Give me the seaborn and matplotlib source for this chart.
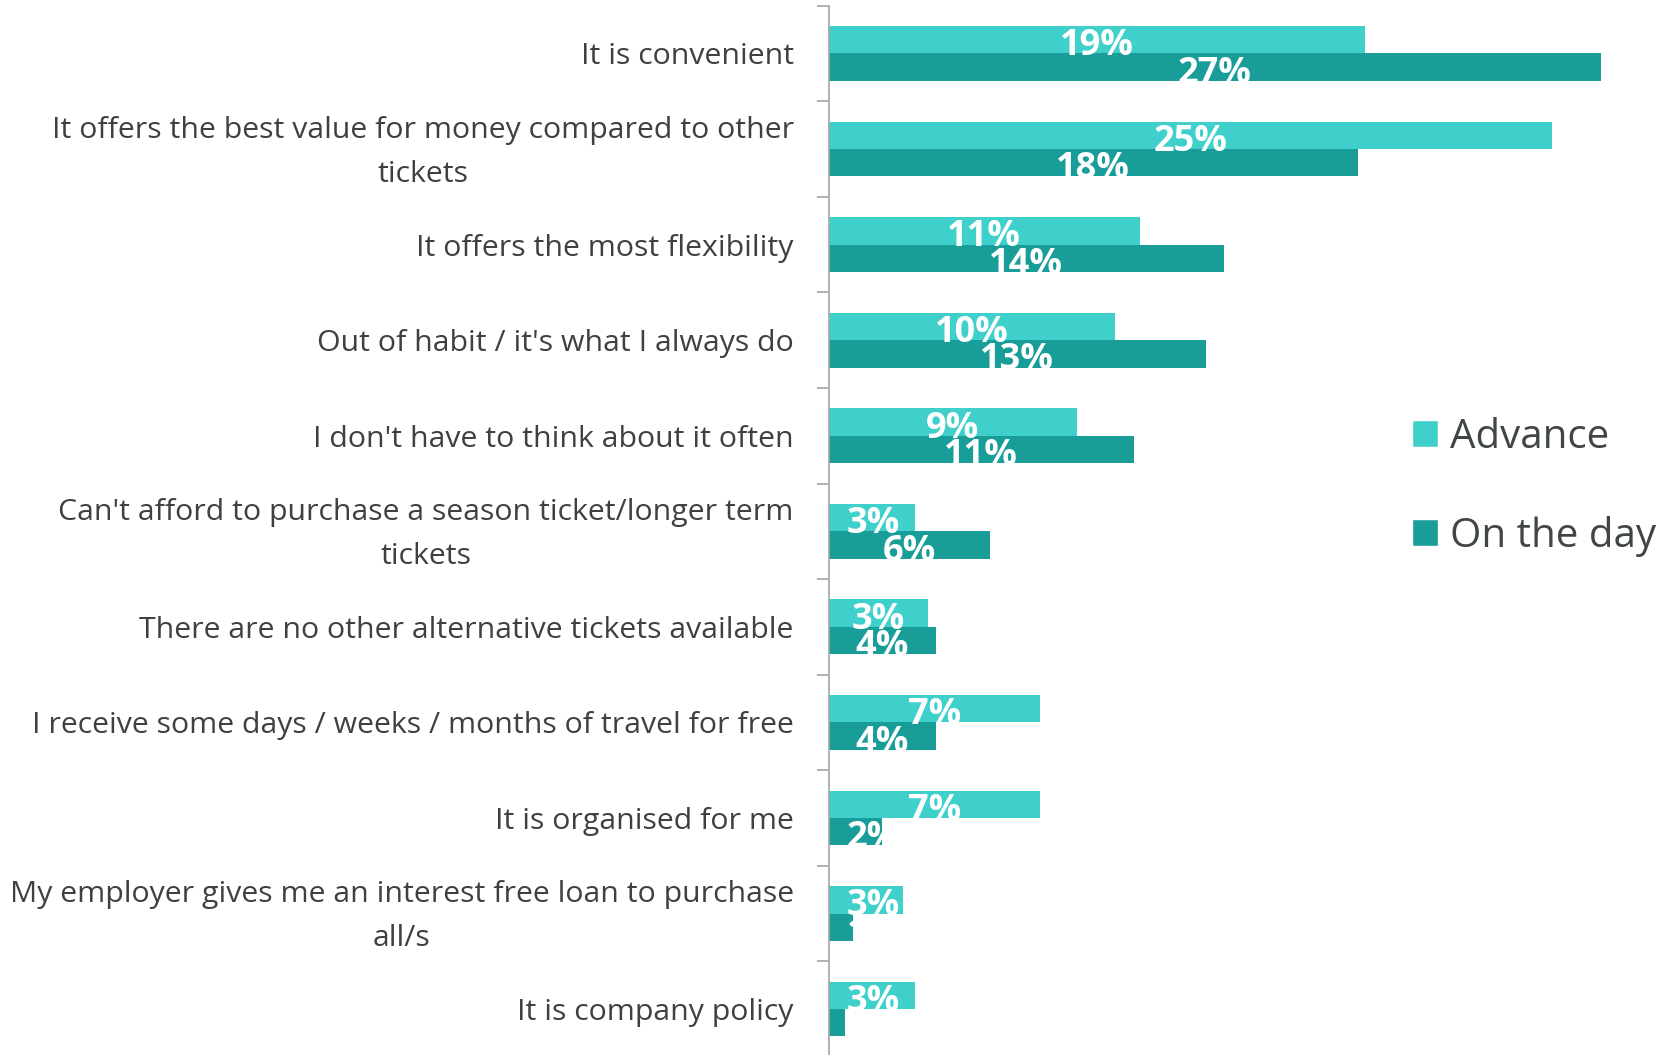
import matplotlib
matplotlib.use("Agg")
import matplotlib.pyplot as plt
from matplotlib.patches import Patch
from matplotlib.ticker import FixedLocator
from matplotlib.transforms import ScaledTranslation
import seaborn as sns
import pandas as pd
import numpy as np

categories = [
    "It is convenient",
    "It offers the best value for money compared to other\ntickets",
    "It offers the most flexibility",
    "Out of habit / it's what I always do",
    "I don't have to think about it often",
    "Can't afford to purchase a season ticket/longer term\ntickets",
    "There are no other alternative tickets available",
    "I receive some days / weeks / months of travel for free",
    "It is organised for me",
    "My employer gives me an interest free loan to purchase\nall/s",
    "It is company policy",
]
advance = [18.7, 25.2, 10.85, 9.98, 8.67, 3.02, 3.46, 7.38, 7.38, 2.59, 3.03]
on_the_day = [26.9, 18.45, 13.77, 13.14, 10.64, 5.62, 3.74, 3.74, 1.87, 0.87, 0.59]
series_names = ["Advance", "On the day"]
colors = ["#40D0CC", "#189D99"]

sns.set_theme(style="white")
plt.rcParams['font.family'] = ['Open Sans', 'DejaVu Sans']

df = pd.DataFrame({
    "Category": categories * 2,
    "Value": advance + on_the_day,
    "Series": [series_names[0]] * len(categories) + [series_names[1]] * len(categories),
})

W, H = 1670, 1055
fig = plt.figure(figsize=(W / 100, H / 100), dpi=100)
ax = fig.add_axes([828.5 / W, -1.9 / H, 1 - 828.5 / W, (1056.9 - 5.7) / H])

sns.barplot(data=df, y="Category", x="Value", hue="Series", palette=colors,
            orient="h", width=0.573, saturation=1, ax=ax, legend=False,
            linewidth=0, errorbar=None)

px_per_unit = 28.7
ax.set_xlim(0, (W - 828.5) / px_per_unit)
ax.set_xlabel("")
ax.set_ylabel("")
ax.xaxis.set_visible(False)
for s in ["top", "right", "bottom"]:
    ax.spines[s].set_visible(False)
ax.spines["left"].set_color("#A6A6A6")
ax.spines["left"].set_linewidth(1.2)

n = len(categories)
ax.yaxis.set_minor_locator(FixedLocator(np.arange(-0.5, n, 1)))
ax.tick_params(axis="y", which="major", length=0, pad=25, labelsize=21.8,
               labelcolor="#404040")
ax.tick_params(axis="y", which="minor", left=True, length=8.6, width=1.2,
               color="#A6A6A6", direction="out")
shift_down = ScaledTranslation(0, -3.2 / 100, fig.dpi_scale_trans)
for t in ax.get_yticklabels():
    t.set_multialignment("center")
    t.set_linespacing(1.66)
    if "\n" in t.get_text():
        t.set_verticalalignment("center")
        t.set_transform(t.get_transform() + shift_down)

# value labels (centered; kept at least ~18px from the axis)
renderer = fig.canvas.get_renderer()
min_left = 18 / px_per_unit
for container, vals in zip(ax.containers, [advance, on_the_day]):
    for patch, v in zip(container, vals):
        w = patch.get_width()
        yc = patch.get_y() + patch.get_height() / 2
        t = ax.text(w / 2, yc + 0.163, f"{round(v)}%", ha="center", va="baseline",
                    color="white", fontsize=26, fontweight="bold", zorder=5)
        bb = t.get_window_extent(renderer=renderer)
        half_w = (bb.width / 2) / px_per_unit
        if w / 2 - half_w < min_left:
            t.set_x(min_left + half_w)

handles = [Patch(facecolor=c, label=s) for c, s in zip(colors, series_names)]
ax.legend(handles=handles, loc="center left",
          bbox_to_anchor=(1412 / W, 1 - 487 / H), bbox_transform=fig.transFigure,
          frameon=False, fontsize=29, handlelength=0.65, handleheight=0.65,
          handletextpad=0.3, labelspacing=1.44, borderpad=0, borderaxespad=0,
          labelcolor="#404545")

fig.savefig("out.png", dpi=100)
